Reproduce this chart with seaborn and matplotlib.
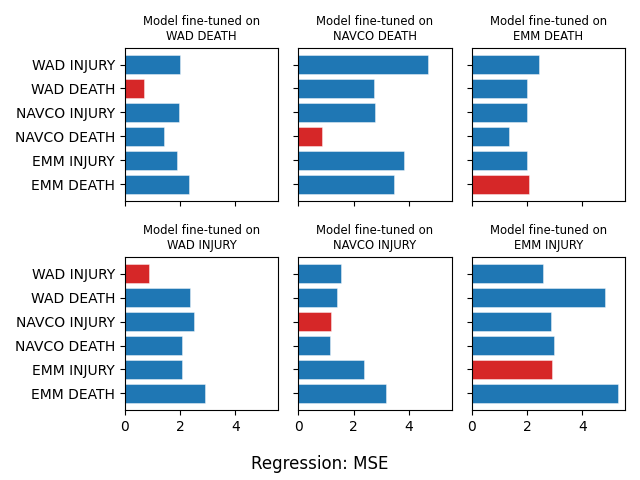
import pandas as pd
import matplotlib
matplotlib.use("Agg")
import matplotlib.pyplot as plt
import seaborn as sns

# evaluation sets (y axis, top to bottom)
eval_sets = ["WAD INJURY", "WAD DEATH", "NAVCO INJURY", "NAVCO DEATH", "EMM INJURY", "EMM DEATH"]

# fine-tuning sets, laid out as in the 2x3 grid
train_sets = ["WAD DEATH", "NAVCO DEATH", "EMM DEATH",
              "WAD INJURY", "NAVCO INJURY", "EMM INJURY"]

# MSE of each fine-tuned model on each eval set
mse_wad_death = [1.99, 0.71, 1.97, 1.41, 1.90, 2.34]
mse_navco_death = [4.70, 2.74, 2.77, 0.86, 3.84, 3.47]
mse_emm_death = [2.43, 1.99, 2.01, 1.36, 1.99, 2.09]
mse_wad_injury = [0.87, 2.36, 2.52, 2.06, 2.07, 2.92]
mse_navco_injury = [1.53, 1.42, 1.17, 1.16, 2.39, 3.17]
mse_emm_injury = [2.58, 4.84, 2.87, 2.98, 2.92, 5.29]

all_mse = [mse_wad_death, mse_navco_death, mse_emm_death,
           mse_wad_injury, mse_navco_injury, mse_emm_injury]

blue = "#1f77b4"
red = "#d62728"

fig, axes = plt.subplots(2, 3, figsize=(6.4, 4.8), dpi=100, sharex=True, sharey=True)

for ax, train, mse in zip(axes.flat, train_sets, all_mse):
    df = pd.DataFrame({"eval": eval_sets, "mse": mse})
    pal = {e: (red if e == train else blue) for e in eval_sets}
    sns.barplot(data=df, x="mse", y="eval", hue="eval", palette=pal,
                saturation=1, legend=False, width=0.8, ax=ax,
                edgecolor=(1, 1, 1, 0.5), linewidth=0.6)
    ax.set_title("Model fine-tuned on\n" + train, fontsize=8.4)
    ax.set_xlabel("")
    ax.set_ylabel("")

# matplotlib-style margins instead of seaborn's categorical limits
for ax in axes.flat:
    ax.set_ylim(5.69, -0.69)
axes[0, 0].set_xlim(0, 5.56)
axes[0, 0].set_xticks([0, 2, 4])

fig.supxlabel("Regression: MSE", fontsize=12, y=0.015)
plt.subplots_adjust(left=0.195, right=0.977, top=0.9, bottom=0.146,
                    wspace=0.13, hspace=0.37)
plt.savefig("out.png")
